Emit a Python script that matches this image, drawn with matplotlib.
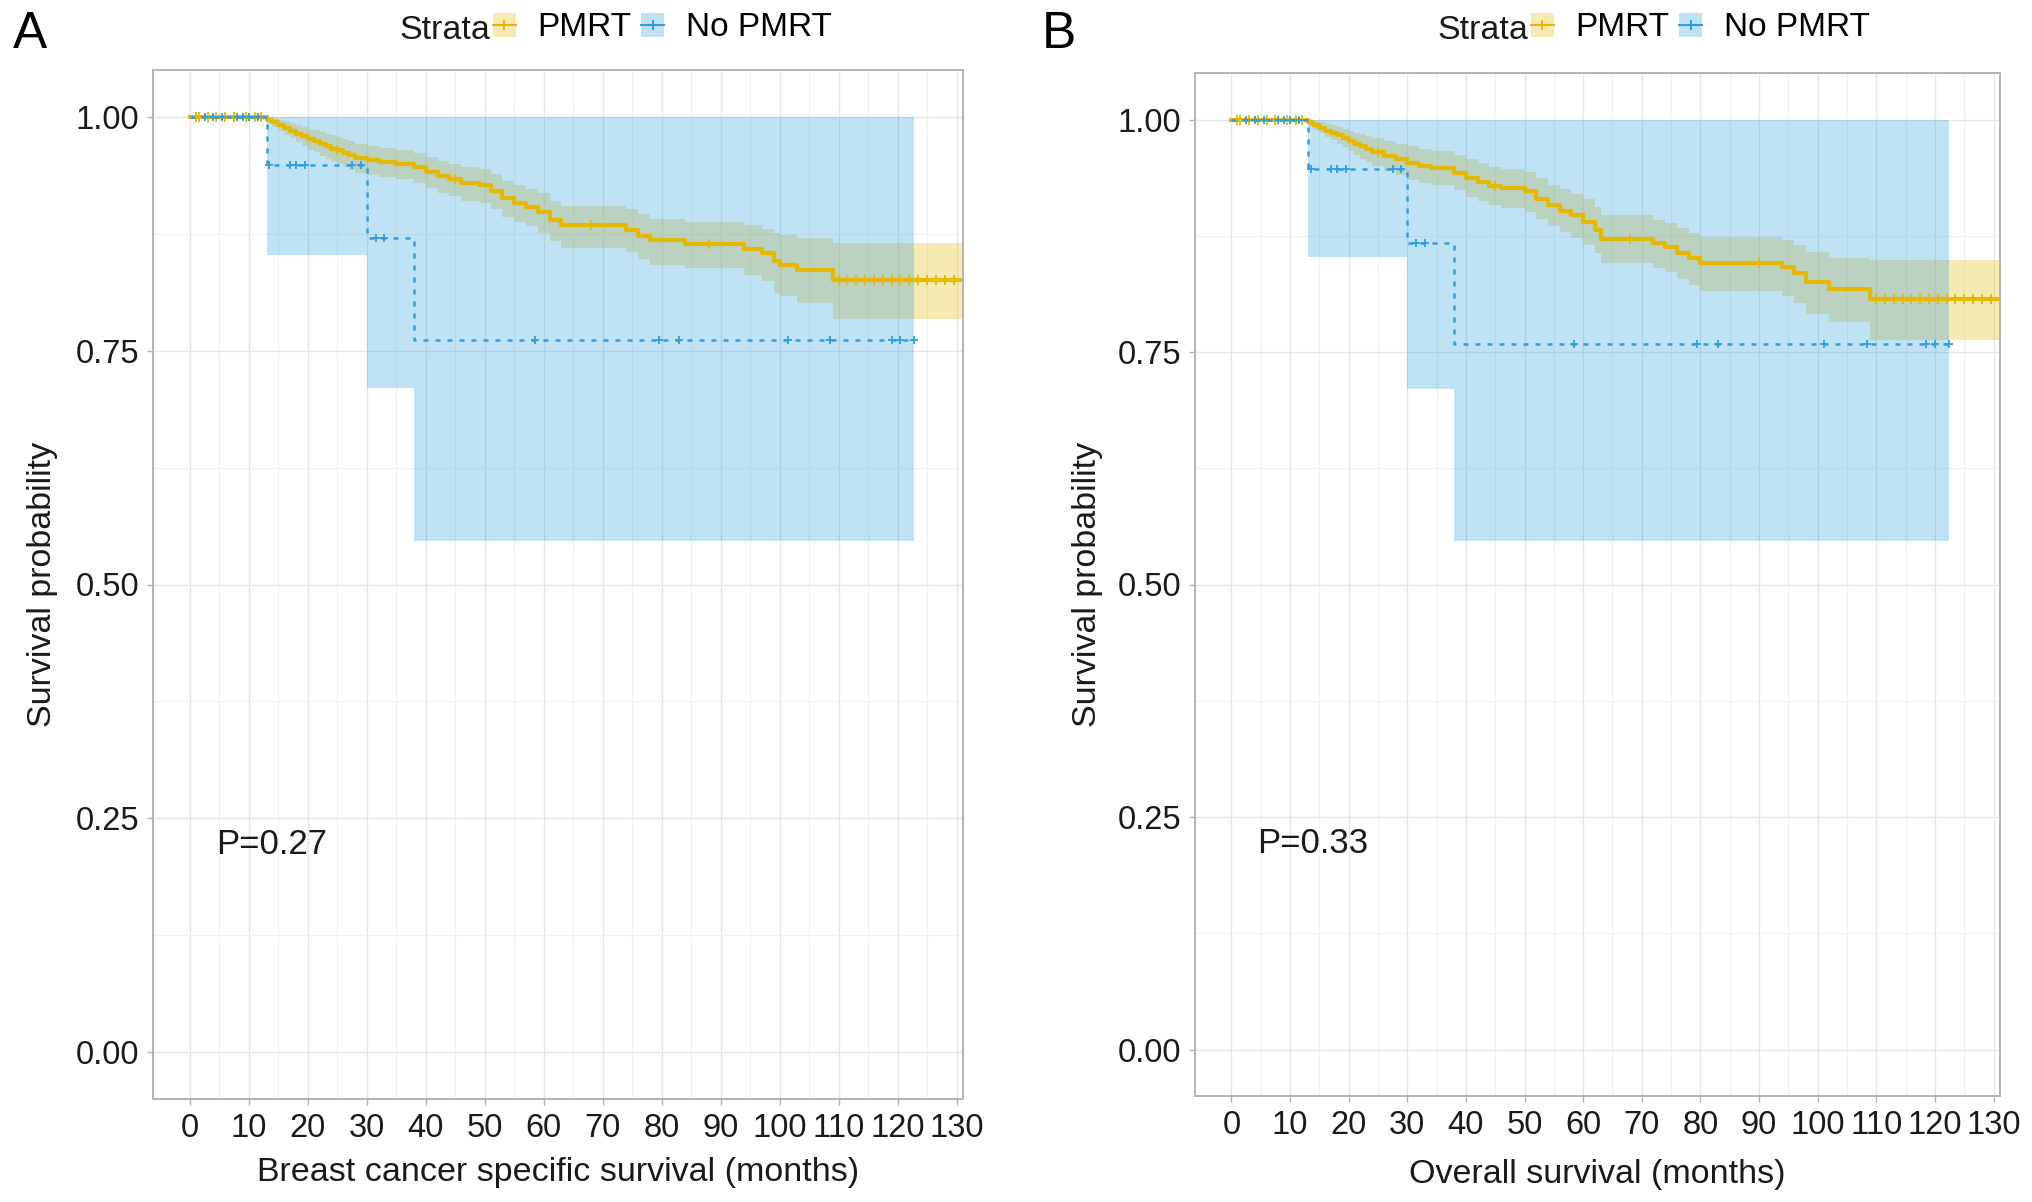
import numpy as np
import matplotlib
matplotlib.use('Agg')
import matplotlib.pyplot as plt
from matplotlib.patches import Patch
from matplotlib.lines import Line2D

plt.rcParams['font.family'] = ['Liberation Sans', 'DejaVu Sans']

# colours of the two strata
yellow = '#E7B800'
blue = '#2E9FDF'

# ---------------- panel A: breast cancer specific survival ----------------
pmrt_a_time = [0, 13, 14, 15, 16, 17, 18, 19, 20, 21, 22, 23, 24, 25, 26, 27, 28, 30, 32, 35,
               38, 40, 42, 44, 46, 49, 51, 53, 55, 57, 59, 61, 63, 74, 76, 78, 84, 94, 97, 99,
               100, 103, 109]
pmrt_a_surv = [1, .997, .994, .991, .988, .985, .982, .979, .976, .974, .971, .969, .966, .964, .961,
               .959, .956, .954, .952, .950, .946, .941, .937, .933, .929, .927, .921, .913, .908,
               .904, .898, .890, .884, .879, .873, .868, .864, .859, .854, .846, .842, .836, .825]
pmrt_a_upper = [1, .999, .998, .997, .995, .993, .991, .989, .987, .986, .984, .982, .980, .978, .976,
                .974, .971, .969, .967, .965, .961, .957, .953, .949, .946, .944, .939, .931, .927,
                .923, .918, .910, .905, .901, .896, .891, .888, .884, .880, .876, .874, .870, .865]
pmrt_a_lower = [1, .993, .989, .985, .981, .977, .973, .969, .965, .962, .958, .955, .952, .949, .946,
                .943, .940, .938, .936, .934, .929, .924, .919, .915, .910, .908, .901, .893, .887,
                .883, .876, .867, .860, .855, .848, .842, .838, .831, .824, .812, .808, .801, .784]
pmrt_a_end = 131.1
pmrt_a_censor = [1, 1.5, 3, 4.5, 6, 7.5, 9.5, 11, 12, 25, 45, 68, 88,
                 110, 111.5, 113, 114.5, 116, 117.5, 119, 120.5, 122, 123.5, 125, 126.5, 128, 129.5]

nopmrt_a_time = [0, 13, 30, 38]
nopmrt_a_surv = [1, .948, .870, .761]
nopmrt_a_upper = [1, 1, 1, 1]
nopmrt_a_lower = [1, .852, .710, .547]
nopmrt_a_end = 122.8
nopmrt_a_censor = [2.5, 4, 5.5, 8, 9, 10, 11.5, 13.5, 17, 18, 19.5, 27.5, 29, 31.5, 33,
                   58.5, 79.5, 83, 101.5, 108.5, 119, 120.5, 122.8]

# ---------------- panel B: overall survival ----------------
pmrt_b_time = [0, 13, 14, 15, 16, 17, 18, 19, 20, 21, 22, 23, 24, 26, 28, 30, 32, 34, 38, 40,
               42, 44, 46, 50, 52, 54, 56, 58, 60, 62, 63, 72, 74, 76, 78, 80, 94, 96, 98, 102, 109]
pmrt_b_surv = [1, .997, .994, .991, .988, .986, .983, .980, .977, .974, .971, .968, .965, .961, .957,
               .953, .950, .948, .943, .937, .933, .929, .926, .923, .915, .908, .902, .897, .890,
               .881, .872, .867, .863, .856, .851, .846, .841, .835, .825, .818, .807]
pmrt_b_upper = [1, .999, .998, .997, .995, .994, .992, .990, .988, .986, .984, .982, .980, .977, .974,
                .971, .968, .966, .962, .957, .953, .949, .947, .944, .937, .930, .925, .920, .914,
                .906, .897, .892, .889, .883, .878, .874, .870, .865, .857, .851, .849]
pmrt_b_lower = [1, .993, .989, .985, .981, .978, .974, .970, .966, .962, .958, .954, .950, .945, .940,
                .935, .932, .930, .924, .917, .912, .908, .905, .901, .893, .885, .879, .873, .865,
                .856, .846, .840, .836, .828, .822, .816, .810, .803, .791, .782, .763]
pmrt_b_end = 131.1
pmrt_b_censor = [1, 1.5, 3, 4.5, 6, 7.5, 9.5, 11, 12, 25, 45, 68, 90,
                 110, 111.5, 113, 114.5, 116, 117.5, 119, 120.5, 122, 123.5, 125, 126.5, 128, 129.5]

nopmrt_b_time = [0, 13, 30, 38]
nopmrt_b_surv = [1, .947, .867, .759]
nopmrt_b_upper = [1, 1, 1, 1]
nopmrt_b_lower = [1, .852, .710, .547]
nopmrt_b_end = 122.4
nopmrt_b_censor = [2.5, 4, 5.5, 8, 9, 10, 11.5, 13.5, 17, 18, 19.5, 27.5, 29, 31.5, 33,
                   58.5, 79.5, 83, 101, 108.5, 118.5, 120, 122.4]

x_ticks = list(range(0, 131, 10))
y_ticks = [0, 0.25, 0.5, 0.75, 1.0]
y_tick_labels = ['0.00', '0.25', '0.50', '0.75', '1.00']


def survival_at(times, surv, t):
    # value of a step curve at time t
    idx = np.searchsorted(times, t, side='right') - 1
    return np.asarray(surv)[idx]


def draw_curve(ax, times, surv, lower, upper, end, censor, color, fill_only=False,
               ms=6, **line_kw):
    t = np.append(times, end)
    s = np.append(surv, surv[-1])
    lo = np.append(lower, lower[-1])
    hi = np.append(upper, upper[-1])
    if fill_only:
        ax.fill_between(t, lo, hi, step='post', color=color, alpha=0.3, lw=0)
        return
    ax.step(t, s, where='post', color=color, **line_kw)
    ax.plot(censor, survival_at(times, surv, censor), ls='none', marker='+',
            ms=ms, mew=1.3, color=color)


def draw_panel(ax, pm, no, xlabel, ptext, ylabel_x, xlabel_y):
    # ribbons first, then the curves on top
    draw_curve(ax, *pm, yellow, fill_only=True)
    draw_curve(ax, *no, blue, fill_only=True)
    draw_curve(ax, *pm, yellow, lw=3.0, ms=7)
    draw_curve(ax, *no, blue, lw=1.8, ls=(0, (2, 2.8)), ms=6)

    ax.set_xlim(-6.2, 131.1)
    ax.set_ylim(-0.05, 1.05)
    ax.set_xticks(x_ticks)
    ax.set_xticks(np.arange(5, 131, 10), minor=True)
    ax.set_yticks(y_ticks)
    ax.set_yticklabels(y_tick_labels)
    ax.set_yticks([0.125, 0.375, 0.625, 0.875], minor=True)
    ax.set_axisbelow(True)
    ax.grid(which='major', color='#E6E6E6', lw=1.0)
    ax.grid(which='minor', color='#F1F1F1', lw=0.8)
    ax.tick_params(which='minor', length=0)
    ax.tick_params(which='major', length=4, width=1, color='#B3B3B3',
                   labelsize=23.5, labelcolor='#1A1A1A', pad=6)
    for sp in ax.spines.values():
        sp.set_color('#B3B3B3')
        sp.set_linewidth(1.4)

    ax.set_xlabel(xlabel, fontsize=24.5, color='#1A1A1A')
    ax.xaxis.set_label_coords(0.5, xlabel_y)
    ax.set_ylabel('Survival probability', fontsize=24.5, color='#1A1A1A')
    ax.yaxis.set_label_coords(ylabel_x, 0.5)

    ax.text(4.4, 0.222, ptext, fontsize=25, color='#1A1A1A', ha='left', va='center')


fig = plt.figure(figsize=(20.32, 12.02), dpi=100)
ax_a = fig.add_axes([153.3 / 2032, 1 - 1099 / 1202, 809.7 / 2032, 1029 / 1202])
ax_b = fig.add_axes([1195 / 2032, 1 - 1096 / 1202, 805 / 2032, 1023 / 1202])

draw_panel(ax_a,
           (pmrt_a_time, pmrt_a_surv, pmrt_a_lower, pmrt_a_upper, pmrt_a_end, pmrt_a_censor),
           (nopmrt_a_time, nopmrt_a_surv, nopmrt_a_lower, nopmrt_a_upper, nopmrt_a_end, nopmrt_a_censor),
           'Breast cancer specific survival (months)', 'P=0.27', -0.118, -0.056)
draw_panel(ax_b,
           (pmrt_b_time, pmrt_b_surv, pmrt_b_lower, pmrt_b_upper, pmrt_b_end, pmrt_b_censor),
           (nopmrt_b_time, nopmrt_b_surv, nopmrt_b_lower, nopmrt_b_upper, nopmrt_b_end, nopmrt_b_censor),
           'Overall survival (months)', 'P=0.33', -0.114, -0.062)

# panel letters
fig.text(13 / 2032, 1 - 48 / 1202, 'A', fontsize=37, va='baseline', ha='left')
fig.text(1042 / 2032, 1 - 48 / 1202, 'B', fontsize=37, va='baseline', ha='left')

# legends on top of each panel
handles = [(Patch(facecolor=yellow, alpha=0.3, lw=0),
            Line2D([0], [0], color=yellow, lw=1.5, marker='+', ms=7, mew=1.4)),
           (Patch(facecolor=blue, alpha=0.3, lw=0),
            Line2D([0], [0], color=blue, lw=1.5, marker='+', ms=7, mew=1.4))]
for strata_x in [399, 1437]:
    fig.text(strata_x / 2032, 1 - 39 / 1202, 'Strata', fontsize=24.5, va='baseline',
             ha='left', color='#1A1A1A')
    fig.legend(handles, ['PMRT', 'No PMRT'], loc='center left',
               bbox_to_anchor=((strata_x + 94) / 2032, 1 - 28 / 1202),
               bbox_transform=fig.transFigure, ncol=2, frameon=False, fontsize=24,
               handlelength=0.68, handleheight=0.7, handletextpad=0.65,
               columnspacing=0.3, borderpad=0, borderaxespad=0)

fig.savefig('out.png', dpi=100)
